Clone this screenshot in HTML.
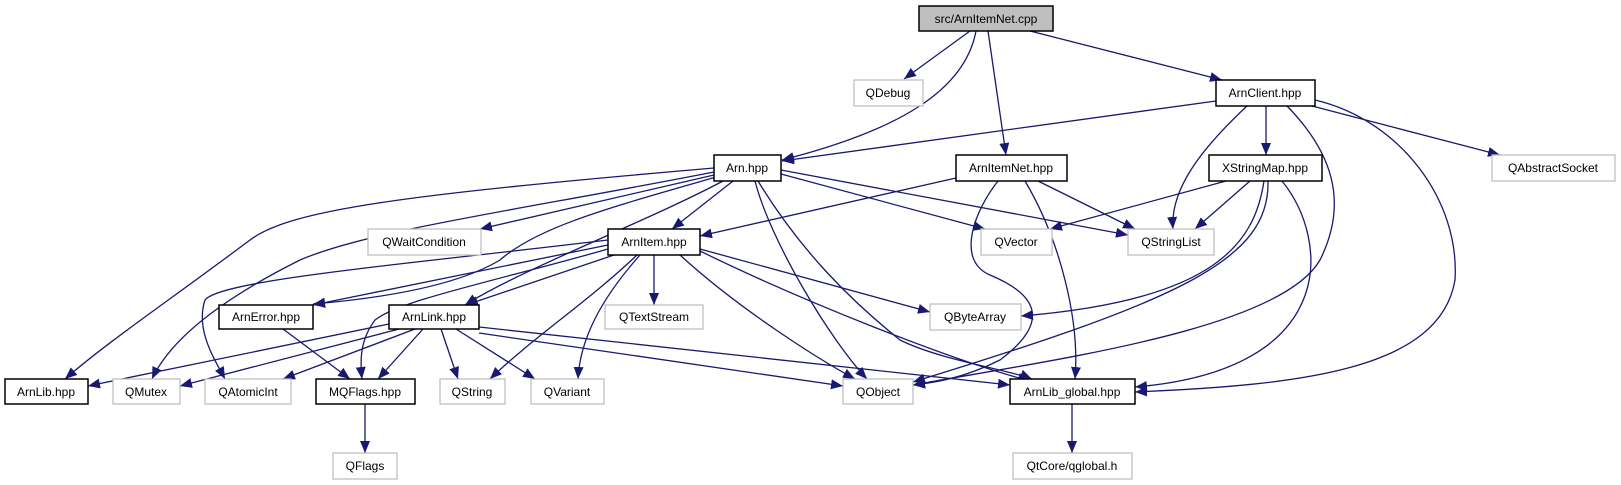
<!DOCTYPE html>
<html><head><meta charset="utf-8"><style>
html,body{margin:0;padding:0;background:#fff;}
svg{display:block;}
text{font-family:"Liberation Sans",Arial,sans-serif;font-size:12px;fill:#000;text-anchor:middle;}
.e{fill:none;stroke:#191970;stroke-width:1.3;marker-end:url(#a);}
.b{fill:#fff;stroke:#000;stroke-width:1.5;}
.g{fill:#fff;stroke:#bfbfbf;stroke-width:1.3;}
</style></head><body>
<svg width="1621" height="485" viewBox="0 0 1621 485" xmlns="http://www.w3.org/2000/svg">
<defs><marker id="a" markerUnits="userSpaceOnUse" markerWidth="13" markerHeight="11" refX="12" refY="5" orient="auto"><path d="M0,0 L12,5 L0,10 z" fill="#191970"/></marker></defs>
<g>
<path class="e" d="M970,31 L904,79"/>
<path class="e" d="M976,31 C965,90 900,130 782,160"/>
<path class="e" d="M988,31 L1006,155"/>
<path class="e" d="M1030,31 L1222,80"/>
<path class="e" d="M1216,101 L782,161"/>
<path class="e" d="M1247,106 C1200,150 1170,190 1173,229"/>
<path class="e" d="M1266,106 L1266,155"/>
<path class="e" d="M1312,106 L1500,155"/>
<path class="e" d="M1287,106 C1330,150 1350,200 1320,260 C1280,330 1050,360 913,385"/>
<path class="e" d="M1315,100 C1400,120 1460,200 1455,280 C1440,370 1300,385 1135,392"/>
<path class="e" d="M714,168 C400,195 290,210 250,240 C170,300 110,340 65,379"/>
<path class="e" d="M714,172 C520,210 370,230 300,260 C220,300 170,340 152,379"/>
<path class="e" d="M714,175 L480,229"/>
<path class="e" d="M716,177 C620,205 540,225 500,260 C450,290 360,300 313,304"/>
<path class="e" d="M723,181 C650,220 520,270 465,305"/>
<path class="e" d="M733,181 L672,229"/>
<path class="e" d="M755,181 C770,240 830,340 867,379"/>
<path class="e" d="M758,181 C800,250 850,300 900,340 C940,360 1010,370 1032,379"/>
<path class="e" d="M781,174 L985,229"/>
<path class="e" d="M781,170 L1128,235"/>
<path class="e" d="M956,178 L700,236"/>
<path class="e" d="M1038,181 L1135,229"/>
<path class="e" d="M998,181 C975,210 955,260 990,275 C1050,300 1040,330 1000,360 C960,380 930,383 913,385"/>
<path class="e" d="M1025,181 C1060,240 1080,320 1075,379"/>
<path class="e" d="M1226,181 L1050,229"/>
<path class="e" d="M1250,181 L1195,229"/>
<path class="e" d="M1264,181 C1255,240 1220,300 1021,316"/>
<path class="e" d="M1268,181 C1270,260 1180,300 913,382"/>
<path class="e" d="M1282,181 C1330,240 1340,370 1135,387"/>
<path class="e" d="M608,245 L313,305"/>
<path class="e" d="M608,240 C400,265 220,280 205,300 C195,330 215,360 225,379"/>
<path class="e" d="M608,249 C500,280 400,300 375,320 C360,340 360,360 362,379"/>
<path class="e" d="M614,255 L466,305"/>
<path class="e" d="M654,255 L654,305"/>
<path class="e" d="M637,255 C590,300 530,340 490,379"/>
<path class="e" d="M640,255 C600,300 580,340 578,379"/>
<path class="e" d="M700,249 L930,312"/>
<path class="e" d="M680,255 C740,310 820,360 855,379"/>
<path class="e" d="M700,251 C800,300 950,360 1030,381"/>
<path class="e" d="M283,329 L350,379"/>
<path class="e" d="M389,324 L88,386"/>
<path class="e" d="M399,329 L180,386"/>
<path class="e" d="M415,329 L283,379"/>
<path class="e" d="M423,329 L378,379"/>
<path class="e" d="M441,329 L458,379"/>
<path class="e" d="M456,329 L535,379"/>
<path class="e" d="M479,333 L843,386"/>
<path class="e" d="M479,327 L1010,385"/>
<path class="e" d="M365,404 L365,453"/>
<path class="e" d="M1072,404 L1072,453"/>
</g>
<g>
<rect x="919" y="6" width="134" height="25" fill="#bfbfbf" stroke="#000" stroke-width="1.5"/><text x="986" y="23">src/ArnItemNet.cpp</text>
<rect class="g" x="854" y="80" width="69" height="26"/><text x="888" y="97">QDebug</text>
<rect class="b" x="1216" y="80" width="99" height="26"/><text x="1265" y="97">ArnClient.hpp</text>
<rect class="b" x="714" y="155" width="67" height="26"/><text x="747" y="172">Arn.hpp</text>
<rect class="b" x="956" y="155" width="111" height="26"/><text x="1011" y="172">ArnItemNet.hpp</text>
<rect class="b" x="1209" y="155" width="113" height="26"/><text x="1265" y="172">XStringMap.hpp</text>
<rect class="g" x="1492" y="155" width="123" height="26"/><text x="1553" y="172">QAbstractSocket</text>
<rect class="g" x="368" y="229" width="113" height="26"/><text x="424" y="246">QWaitCondition</text>
<rect class="b" x="608" y="229" width="92" height="26"/><text x="654" y="246">ArnItem.hpp</text>
<rect class="g" x="981" y="229" width="71" height="26"/><text x="1016" y="246">QVector</text>
<rect class="g" x="1128" y="229" width="86" height="26"/><text x="1171" y="246">QStringList</text>
<rect class="b" x="219" y="305" width="94" height="24"/><text x="266" y="321">ArnError.hpp</text>
<rect class="b" x="389" y="305" width="90" height="24"/><text x="434" y="321">ArnLink.hpp</text>
<rect class="g" x="605" y="305" width="98" height="24"/><text x="654" y="321">QTextStream</text>
<rect class="g" x="930" y="304" width="91" height="26"/><text x="975" y="321">QByteArray</text>
<rect class="b" x="5" y="379" width="83" height="25"/><text x="46" y="396">ArnLib.hpp</text>
<rect class="g" x="113" y="379" width="67" height="25"/><text x="146" y="396">QMutex</text>
<rect class="g" x="205" y="379" width="86" height="25"/><text x="248" y="396">QAtomicInt</text>
<rect class="b" x="316" y="379" width="99" height="25"/><text x="365" y="396">MQFlags.hpp</text>
<rect class="g" x="440" y="379" width="65" height="25"/><text x="472" y="396">QString</text>
<rect class="g" x="531" y="379" width="73" height="25"/><text x="567" y="396">QVariant</text>
<rect class="g" x="843" y="379" width="70" height="25"/><text x="878" y="396">QObject</text>
<rect class="b" x="1010" y="379" width="125" height="25"/><text x="1072" y="396">ArnLib_global.hpp</text>
<rect class="g" x="333" y="453" width="64" height="26"/><text x="365" y="470">QFlags</text>
<rect class="g" x="1013" y="453" width="119" height="26"/><text x="1072" y="470">QtCore/qglobal.h</text>
</g>
</svg>
</body></html>
